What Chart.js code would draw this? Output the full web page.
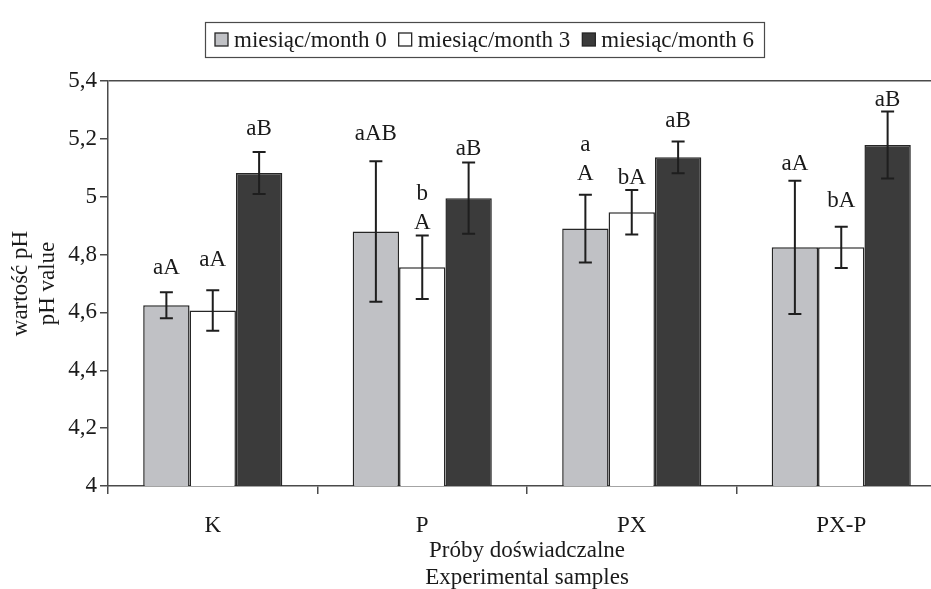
<!DOCTYPE html>
<html>
<head>
<meta charset="utf-8">
<script src="https://cdn.jsdelivr.net/npm/chart.js@4/dist/chart.umd.min.js"></script>
<style>
  html, body { margin: 0; padding: 0; background: #ffffff; overflow: hidden; }
  #wrap { width: 946px; height: 589px; }
</style>
</head>
<body>
<div id="wrap"><canvas id="chart" width="946" height="589"></canvas></div>
<script>
// Samples and storage times
const categories = ['K', 'P', 'PX', 'PX-P'];
const seriesNames = ['miesiąc/month 0', 'miesiąc/month 3', 'miesiąc/month 6'];

// Mean pH values
const month0 = [4.625, 4.880, 4.890, 4.825];
const month3 = [4.607, 4.756, 4.946, 4.825];
const month6 = [5.082, 4.995, 5.136, 5.179];

// Standard deviations
const err0 = [0.045, 0.243, 0.117, 0.230];
const err3 = [0.070, 0.110, 0.077, 0.071];
const err6 = [0.073, 0.123, 0.055, 0.116];

// Significance letters (multi-line where stacked)
const letters0 = [['aA'], ['aAB'], ['a', 'A'], ['aA']];
const letters3 = [['aA'], ['b', 'A'], ['bA'], ['bA']];
const letters6 = [['aB'], ['aB'], ['aB'], ['aB']];

// Value axis tick labels (decimal comma)
const yTickLabels = ['4', '4,2', '4,4', '4,6', '4,8', '5', '5,2', '5,4'];

// Styling
const FONT = "'Liberation Serif', 'Times New Roman', serif";
const SIZE = 23;
const TEXT = '#1a1a1a';
const AXIS = '#4a4a4a';
const fills = ['#c0c1c5', '#ffffff', '#3b3b3b'];
// gap in px between the top of each error bar and its letter label
const labelLift = [[24, 27, 21, 17], [30, 13, 12, 26], [23, 14, 21, 11]];

const errors = [err0, err3, err6];
const letters = [letters0, letters3, letters6];

const errorBarPlugin = {
  id: 'errorBars',
  afterDatasetsDraw(chart) {
    const ctx = chart.ctx;
    const y = chart.scales.y;
    ctx.save();
    ctx.strokeStyle = '#1e1e1e';
    ctx.lineWidth = 2;
    chart.data.datasets.forEach((ds, d) => {
      const meta = chart.getDatasetMeta(d);
      meta.data.forEach((bar, i) => {
        const v = ds.data[i], e = errors[d][i];
        const top = y.getPixelForValue(v + e);
        const bot = y.getPixelForValue(v - e);
        const cap = 6.5;
        ctx.beginPath();
        ctx.moveTo(bar.x, top); ctx.lineTo(bar.x, bot);
        ctx.moveTo(bar.x - cap, top); ctx.lineTo(bar.x + cap, top);
        ctx.moveTo(bar.x - cap, bot); ctx.lineTo(bar.x + cap, bot);
        ctx.stroke();
      });
    });
    ctx.restore();
  }
};

const letterPlugin = {
  id: 'letters',
  afterDatasetsDraw(chart) {
    const ctx = chart.ctx;
    const y = chart.scales.y;
    ctx.save();
    ctx.font = SIZE + 'px ' + FONT;
    ctx.fillStyle = TEXT;
    ctx.textAlign = 'center';
    ctx.textBaseline = 'middle';
    chart.data.datasets.forEach((ds, d) => {
      const meta = chart.getDatasetMeta(d);
      meta.data.forEach((bar, i) => {
        const top = y.getPixelForValue(ds.data[i] + errors[d][i]);
        const lines = letters[d][i];
        let cy = top - labelLift[d][i];
        for (let k = lines.length - 1; k >= 0; k--) {
          ctx.fillText(lines[k], bar.x, cy);
          cy -= 29;
        }
      });
    });
    ctx.restore();
  }
};

const boxLegendPlugin = {
  id: 'boxLegend',
  afterDraw(chart) {
    const ctx = chart.ctx;
    ctx.save();
    ctx.font = SIZE + 'px ' + FONT;
    const sq = 13, gapST = 6, gapItems = 12, pad = 10;
    const names = chart.data.datasets.map(ds => ds.label);
    const widths = names.map(n => ctx.measureText(n).width);
    let total = pad * 2 + gapItems * (names.length - 1);
    widths.forEach(w => { total += sq + gapST + w; });
    const left = Math.round(485 - total / 2);
    const top = 22, h = 35, cy = top + h / 2;
    ctx.strokeStyle = AXIS;
    ctx.lineWidth = 1.2;
    ctx.strokeRect(left + 0.5, top + 0.5, total, h);
    let x = left + pad;
    ctx.textBaseline = 'middle';
    ctx.textAlign = 'left';
    names.forEach((n, k) => {
      const ds = chart.data.datasets[k];
      ctx.fillStyle = ds.backgroundColor;
      ctx.fillRect(x, cy - sq / 2, sq, sq);
      ctx.strokeStyle = '#262626';
      ctx.lineWidth = 1.3;
      ctx.strokeRect(x, cy - sq / 2, sq, sq);
      ctx.fillStyle = TEXT;
      ctx.fillText(n, x + sq + gapST, cy + 1);
      x += sq + gapST + widths[k] + gapItems;
    });
    ctx.restore();
  }
};

Chart.defaults.font.family = FONT;
Chart.defaults.color = TEXT;

const seriesValues = [month0, month3, month6];

new Chart(document.getElementById('chart'), {
  type: 'bar',
  data: {
    labels: categories,
    datasets: seriesValues.map((vals, k) => ({
      label: seriesNames[k],
      data: vals,
      backgroundColor: fills[k],
      borderColor: '#262626',
      borderWidth: 1.5,
      borderSkipped: false,
      barPercentage: 1,
      categoryPercentage: 0.664
    }))
  },
  options: {
    responsive: false,
    animation: false,
    devicePixelRatio: 1,
    layout: { padding: { top: 81, left: 0, right: 0, bottom: 0 } },
    plugins: {
      legend: { display: false },
      tooltip: { enabled: false },
      title: { display: false }
    },
    scales: {
      x: {
        ticks: { padding: 18, color: TEXT, font: { size: SIZE } },
        grid: { drawOnChartArea: false, offset: true, tickLength: 8, tickColor: AXIS, lineWidth: 1.5 },
        border: { color: AXIS, width: 1.5 },
        title: {
          display: true,
          text: ['Próby doświadczalne', 'Experimental samples'],
          color: TEXT,
          font: { size: SIZE, lineHeight: 1.174 },
          padding: { top: 0, bottom: -2.5 }
        },
        afterFit(s) { s.height = 103; s.paddingLeft = 0; s.paddingRight = 0; }
      },
      y: {
        min: 4,
        max: 5.4,
        ticks: {
          stepSize: 0.2,
          padding: 3,
          color: TEXT,
          font: { size: SIZE },
          callback: (v, i) => yTickLabels[i]
        },
        grid: {
          drawOnChartArea: true,
          color: c => (c.tick && Math.abs(c.tick.value - 5.4) < 1e-6) ? AXIS : 'rgba(0,0,0,0)',
          tickColor: AXIS,
          tickLength: 8,
          lineWidth: 1.5
        },
        border: { color: AXIS, width: 1.5 },
        title: {
          display: true,
          text: ['wartość pH', 'pH value'],
          color: TEXT,
          font: { size: SIZE, lineHeight: 1.15 },
          padding: { top: 8, bottom: 0 }
        },
        afterFit(s) { s.width = 108; s.paddingTop = 0; s.paddingBottom = 0; }
      }
    }
  },
  plugins: [errorBarPlugin, letterPlugin, boxLegendPlugin]
});
</script>
</body>
</html>
